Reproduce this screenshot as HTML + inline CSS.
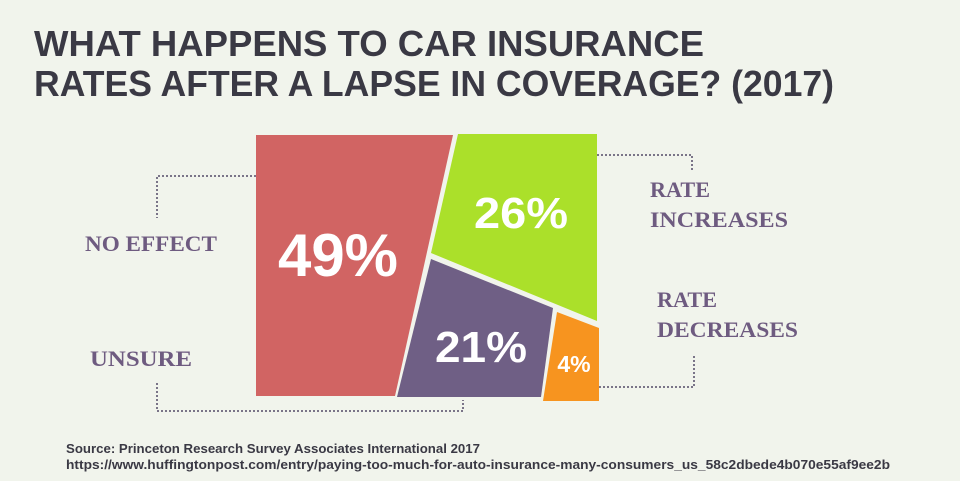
<!DOCTYPE html>
<html><head><style>
body{margin:0;background:#f1f4ec;}
svg{display:block}
</style></head><body>
<svg width="960" height="481" viewBox="0 0 960 481" xmlns="http://www.w3.org/2000/svg">
<rect width="960" height="481" fill="#f1f4ec"/>
<g font-family="Liberation Sans, sans-serif" font-weight="bold" fill="#3a3944" font-size="36">
<text x="34" y="56" textLength="670" lengthAdjust="spacingAndGlyphs">WHAT HAPPENS TO CAR INSURANCE</text>
<text x="34" y="96" textLength="800" lengthAdjust="spacingAndGlyphs">RATES AFTER A LAPSE IN COVERAGE? (2017)</text>
</g>
<polygon points="256,135 453,135 395,396 256,396" fill="#d16463"/>
<polygon points="458,134 597,134 597,321 431,253" fill="#abe02a"/>
<polygon points="431,259 553,308 541,397 397,397" fill="#6f5f85"/>
<polygon points="557,312 599,328 599,401 543,401" fill="#f7941f"/>
<g fill="none" stroke="#7a7488" stroke-width="2" stroke-dasharray="2,2">
<polyline points="256,176 157,176 157,218"/>
<polyline points="157,383 157,411 463,411 463,400"/>
<polyline points="597,155 692,155 692,170"/>
<polyline points="599,387 694,387 694,356"/>
</g>
<g font-family="Liberation Sans, sans-serif" font-weight="bold" fill="#fff">
<text x="338" y="276" font-size="60" text-anchor="middle" textLength="120" lengthAdjust="spacingAndGlyphs">49%</text>
<text x="521" y="228" font-size="44" text-anchor="middle" textLength="94" lengthAdjust="spacingAndGlyphs">26%</text>
<text x="481" y="362" font-size="44" text-anchor="middle" textLength="92" lengthAdjust="spacingAndGlyphs">21%</text>
<text x="574" y="372" font-size="23" text-anchor="middle">4%</text>
</g>
<g font-family="Liberation Serif, serif" font-weight="bold" fill="#6e5b80" font-size="22">
<text x="85" y="251" textLength="132" lengthAdjust="spacingAndGlyphs">NO EFFECT</text>
<text x="90" y="366" textLength="102" lengthAdjust="spacingAndGlyphs">UNSURE</text>
<text x="650" y="197" textLength="60" lengthAdjust="spacingAndGlyphs">RATE</text>
<text x="650" y="227" textLength="138" lengthAdjust="spacingAndGlyphs">INCREASES</text>
<text x="657" y="307" textLength="60" lengthAdjust="spacingAndGlyphs">RATE</text>
<text x="657" y="337" textLength="141" lengthAdjust="spacingAndGlyphs">DECREASES</text>
</g>
<g font-family="Liberation Sans Narrow, sans-serif" font-weight="bold" fill="#3a3944" font-size="13">
<text x="66" y="453" textLength="414" lengthAdjust="spacingAndGlyphs">Source: Princeton Research Survey Associates International 2017</text>
<text x="66" y="469" textLength="824" lengthAdjust="spacingAndGlyphs">https://www.huffingtonpost.com/entry/paying-too-much-for-auto-insurance-many-consumers_us_58c2dbede4b070e55af9ee2b</text>
</g>
</svg>
</body></html>
